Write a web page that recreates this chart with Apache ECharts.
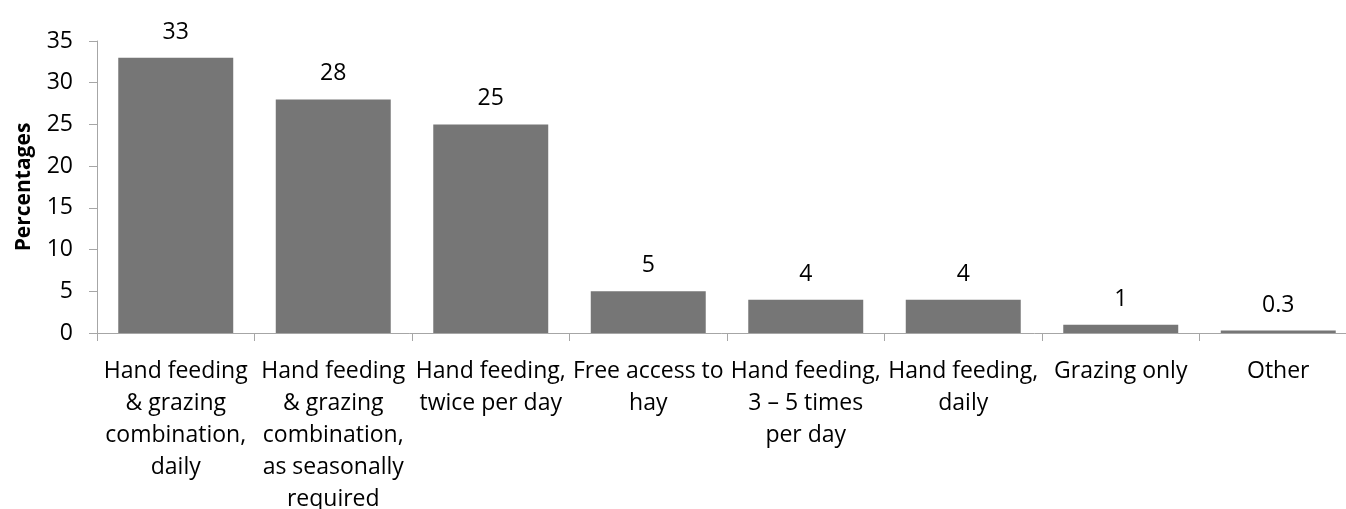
<!DOCTYPE html>
<html>
<head>
<meta charset="utf-8">
<style>
  html, body { margin: 0; padding: 0; background: #ffffff; }
  #chart { width: 1346px; height: 509px; }
</style>
<script src="https://cdn.jsdelivr.net/npm/echarts@6/dist/echarts.min.js"></script>
</head>
<body>
<div id="chart"></div>
<script>
// Feeding practices and the share of respondents using each (%)
const categories = [
  'Hand feeding\n& grazing\ncombination,\ndaily',
  'Hand feeding\n& grazing\ncombination,\nas seasonally\nrequired',
  'Hand feeding,\ntwice per day',
  'Free access to\nhay',
  'Hand feeding,\n3 \u2013 5 times\nper day',
  'Hand feeding,\ndaily',
  'Grazing only',
  'Other'
];
const percentages = [33, 28, 25, 5, 4, 4, 1, 0.3];
const yTicks = { min: 0, max: 35, interval: 5 };

const FONT = '"Open Sans", "Noto Sans", sans-serif';
const AXIS_GREY = '#a6a6a6';

const chart = echarts.init(document.getElementById('chart'), null, { renderer: 'canvas' });

chart.setOption({
  animation: false,
  backgroundColor: '#ffffff',
  textStyle: { fontFamily: FONT, color: '#000' },
  grid: {
    left: 97,
    top: 41,
    width: 1260,
    height: 292,
    outerBoundsMode: 'none',
    containLabel: false
  },
  xAxis: {
    type: 'category',
    data: categories,
    boundaryGap: true,
    axisLine: { show: true, lineStyle: { color: AXIS_GREY, width: 1 } },
    axisTick: { show: true, alignWithLabel: false, length: 8, lineStyle: { color: AXIS_GREY } },
    axisLabel: {
      interval: 0,
      margin: 22,
      fontFamily: FONT,
      fontSize: 23,
      lineHeight: 32,
      color: '#000',
      align: 'center'
    },
    splitLine: { show: false }
  },
  yAxis: {
    type: 'value',
    min: yTicks.min,
    max: yTicks.max,
    interval: yTicks.interval,
    name: 'Percentages',
    nameLocation: 'middle',
    nameRotate: 90,
    nameGap: 62,
    nameTextStyle: { fontFamily: FONT, fontSize: 21, fontWeight: 'bold', color: '#000' },
    axisLine: { show: true, lineStyle: { color: AXIS_GREY, width: 1 } },
    axisTick: { show: true, inside: false, length: 8, lineStyle: { color: AXIS_GREY } },
    axisLabel: { margin: 24, fontFamily: FONT, fontSize: 23, color: '#000' },
    splitLine: { show: false }
  },
  series: [{
    type: 'bar',
    data: percentages,
    barCategoryGap: '27%',
    itemStyle: { color: '#767676' },
    label: {
      show: true,
      position: 'top',
      distance: 14,
      fontFamily: FONT,
      fontSize: 23,
      color: '#000'
    }
  }]
});
</script>
</body>
</html>
